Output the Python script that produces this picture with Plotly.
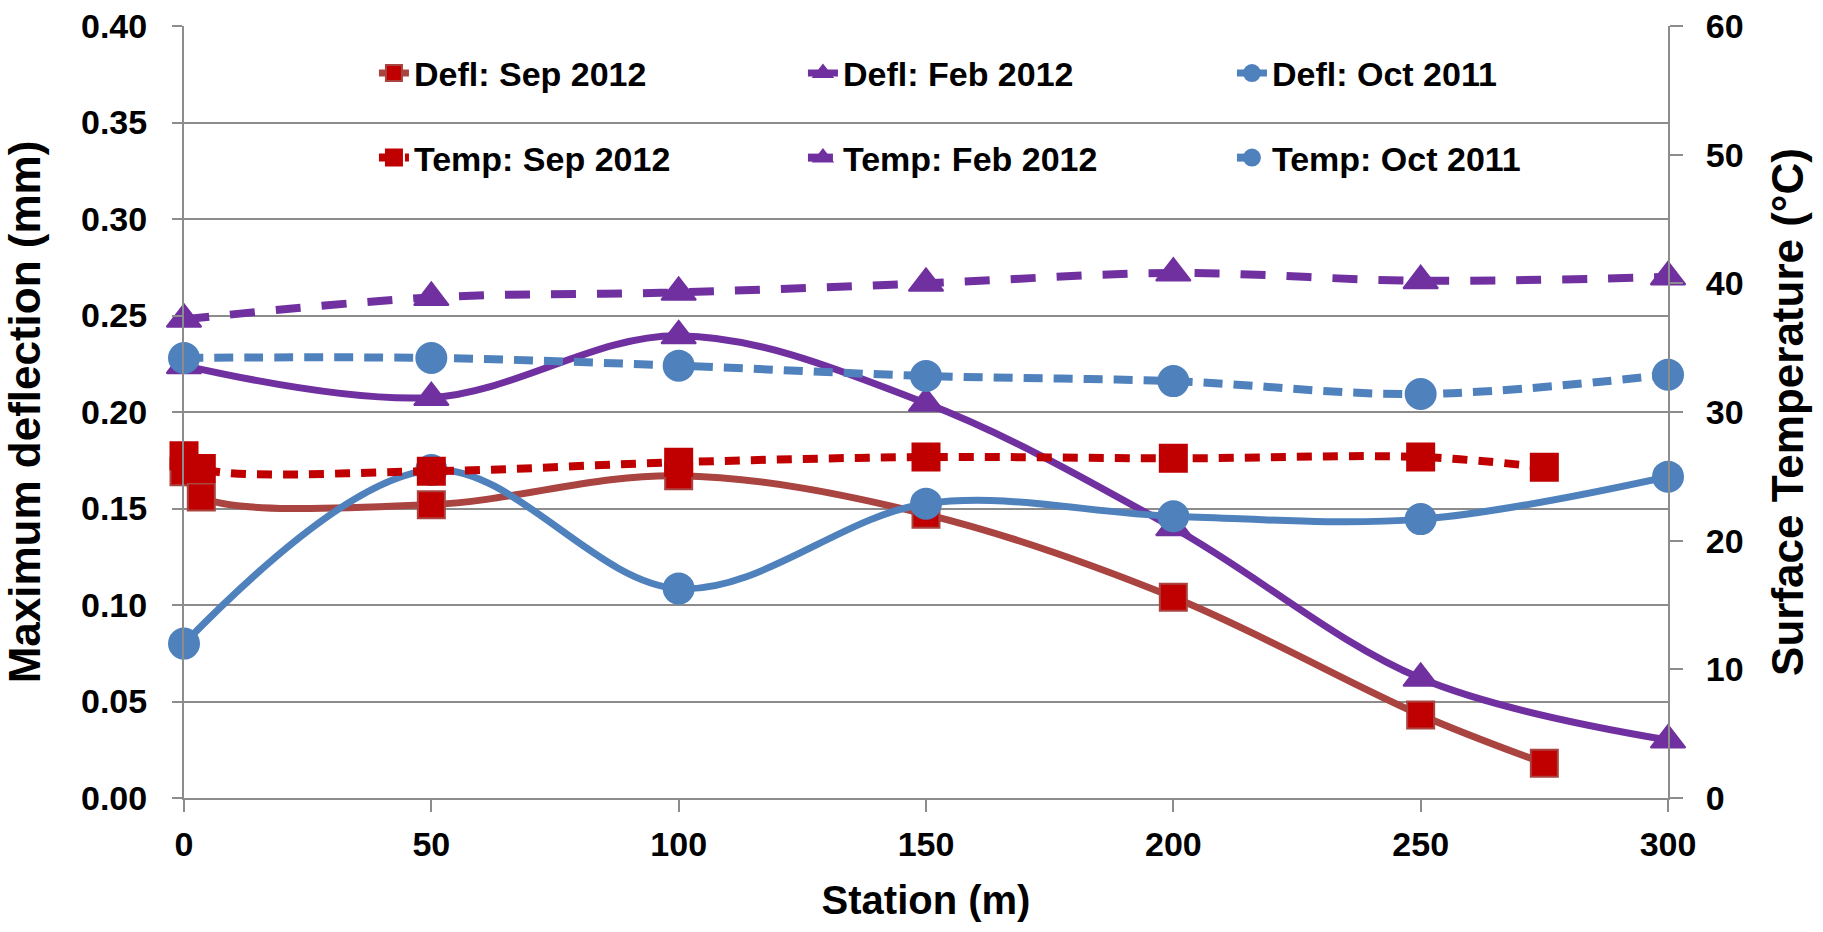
import plotly.graph_objects as go

# ---- data ----
station_sep = [0, 3.5, 50, 100, 150, 200, 250, 275]
station_all = [0, 50, 100, 150, 200, 250, 300]

defl_sep2012 = [0.169, 0.156, 0.152, 0.167, 0.147, 0.104, 0.043, 0.018]
defl_feb2012 = [0.224, 0.2075, 0.2395, 0.2045, 0.140, 0.062, 0.030]
defl_oct2011 = [0.080, 0.170, 0.1085, 0.1525, 0.146, 0.1445, 0.1665]

temp_sep2012 = [26.6, 25.6, 25.4, 26.1, 26.5, 26.4, 26.5, 25.7]
temp_feb2012 = [37.2, 38.9, 39.3, 40.0, 40.8, 40.2, 40.5]
temp_oct2011 = [34.2, 34.2, 33.6, 32.8, 32.4, 31.4, 32.9]

x_ticks = [0, 50, 100, 150, 200, 250, 300]
y_ticks = [0.00, 0.05, 0.10, 0.15, 0.20, 0.25, 0.30, 0.35, 0.40]
y2_ticks = [0, 10, 20, 30, 40, 50, 60]

RED_LINE = "#A94441"
RED = "#C00000"
PURPLE = "#7030A0"
BLUE = "#4F81BD"
GRID = "#8C8C8C"
FONT = "Liberation Sans, Arial, sans-serif"

fig = go.Figure()

def add(x, y, name, color, symbol, msize, dash, yaxis, legend, mline=None, lw=7):
    fig.add_trace(go.Scatter(
        x=x, y=y, name=name, mode="lines+markers", yaxis=yaxis, legend=legend,
        line=dict(color=color if mline is None else mline, width=lw, dash=dash,
                  shape="spline", smoothing=1.0),
        marker=dict(symbol=symbol, size=msize, color=color,
                    line=dict(color=mline if mline else color, width=2)),
        cliponaxis=False,
    ))

add(station_sep, defl_sep2012, "Defl: Sep 2012", RED, "square", 27, "solid", "y", "legend", mline=RED_LINE)
add(station_all, defl_feb2012, "Defl: Feb 2012", PURPLE, "triangle-up", 30, "solid", "y", "legend")
add(station_all, defl_oct2011, "Defl: Oct 2011", BLUE, "circle", 30, "solid", "y", "legend")
add(station_sep, temp_sep2012, "Temp: Sep 2012", RED, "square", 27, "15px,11px", "y2", "legend2", lw=8)
add(station_all, temp_feb2012, "Temp: Feb 2012", PURPLE, "triangle-up", 30, "25px,21px", "y2", "legend2", lw=8)
add(station_all, temp_oct2011, "Temp: Oct 2011", BLUE, "circle", 30, "19px,11px", "y2", "legend2", lw=8)

tickfont = dict(family=FONT, size=34, color="black", weight="bold")
titlefont = dict(family=FONT, size=44, color="black", weight="bold")
legfont = dict(family=FONT, size=34, color="black", weight="bold")

fig.update_layout(
    width=1823, height=932,
    margin=dict(l=184, r=155, t=26, b=134, autoexpand=False),
    paper_bgcolor="white", plot_bgcolor="white",
    xaxis=dict(
        range=[0, 300], tickvals=x_ticks, ticktext=[str(v) for v in x_ticks],
        showgrid=False, zeroline=False, showline=True, linecolor=GRID, linewidth=2,
        ticks="outside", ticklen=12, tickcolor=GRID, tickwidth=2,
        tickfont=tickfont, ticklabelstandoff=3,
        title=dict(text="Station (m)", font=dict(family=FONT, size=40, color="black", weight="bold"), standoff=24),
    ),
    yaxis=dict(
        range=[0, 0.40], tickvals=y_ticks, ticktext=[f"{v:.2f}" for v in y_ticks],
        showgrid=True, gridcolor=GRID, gridwidth=2, zeroline=False,
        showline=True, linecolor=GRID, linewidth=2,
        ticks="outside", ticklen=10, tickcolor=GRID, tickwidth=2,
        tickfont=tickfont, ticklabelstandoff=18,
        title=dict(text="Maximum deflection (mm)", font=titlefont, standoff=34),
    ),
    yaxis2=dict(
        range=[0, 60], tickvals=y2_ticks, ticktext=[str(v) for v in y2_ticks],
        overlaying="y", side="right", showgrid=False, zeroline=False,
        showline=True, linecolor=GRID, linewidth=2,
        ticks="outside", ticklen=13, tickcolor=GRID, tickwidth=2,
        tickfont=tickfont, ticklabelstandoff=16,
        title=dict(text="Surface Temperature (°C)", font=titlefont, standoff=30),
    ),
    legend=dict(orientation="h", x=0.128, xanchor="left", y=0.9385, yanchor="middle",
                entrywidth=384, entrywidthmode="pixels", font=legfont,
                bgcolor="rgba(0,0,0,0)", itemwidth=30),
    legend2=dict(orientation="h", x=0.128, xanchor="left", y=0.829, yanchor="middle",
                 entrywidth=384, entrywidthmode="pixels", font=legfont,
                 bgcolor="rgba(0,0,0,0)", itemwidth=30),
    showlegend=True,
)

fig.write_html("out.html")
